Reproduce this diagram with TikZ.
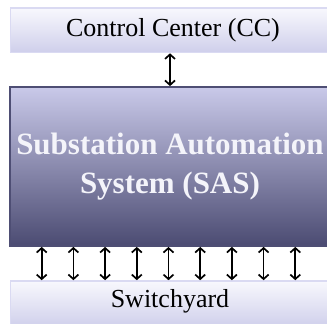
\documentclass[tikz,border=0pt]{standalone}
\usepackage{fontspec}
\setmainfont{Liberation Serif}
\usetikzlibrary{arrows.meta}
\definecolor{lightTop}{HTML}{F8F8FD}
\definecolor{lightBot}{HTML}{CFCFEB}
\definecolor{lightEdge}{HTML}{DADAF2}
\definecolor{sasTop}{HTML}{C9C9E9}
\definecolor{sasBot}{HTML}{4B4B72}
\definecolor{sasEdge}{HTML}{4E4E74}
\definecolor{sasText}{HTML}{F4F4FA}
\tikzset{
  lightbox/.style={rectangle, draw=lightEdge, line width=1.6pt, top color=lightTop, bottom color=lightBot,
    minimum width=325pt, inner sep=0pt, font=\fontsize{26}{31}\selectfont},
  sasbox/.style={rectangle, draw=sasEdge, line width=1.8pt, top color=sasTop, bottom color=sasBot,
    minimum width=320pt, minimum height=159pt, inner sep=0pt, align=center, text=sasText,
    font=\fontsize{31}{39}\selectfont\bfseries},
  link/.style={line width=1.7pt, {Straight Barb[length=4.5pt,width=10pt]}-{Straight Barb[length=4.5pt,width=10pt]}}
}
\begin{document}
\begin{tikzpicture}[x=1pt,y=-1pt]
\useasboundingbox (0,0) rectangle (327,324);
\begin{scope}
\clip (0,0) rectangle (327,324);
\node[lightbox, minimum height=44.5pt] (cc) at (173,30.25) {Control Center (CC)};
\node[sasbox] (sas) at (170,166.5) {Substation Automation\\System (SAS)};
\node[lightbox, minimum height=46pt] (sw) at (173,304) {};
\node[font=\fontsize{26}{31}\selectfont, anchor=base] (swlabel) at (170,307) {Switchyard};
\coordinate (top) at (170,0);
\draw[link] (cc.south -| top) -- (sas.north -| top);
\foreach \i in {0,...,8} {
  \coordinate (c\i) at ({41.7+\i*31.7},0);
  \draw[link] (sas.south -| c\i) -- (sw.north -| c\i);
}
\end{scope}
\end{tikzpicture}
\end{document}
